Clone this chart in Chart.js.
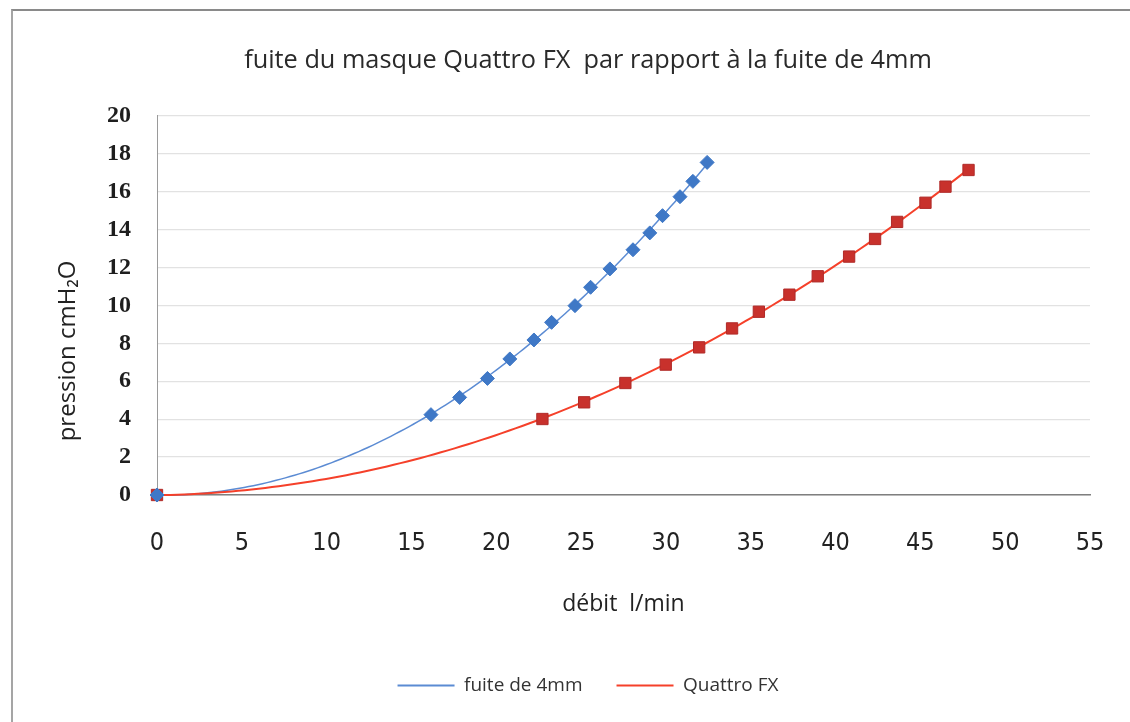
<!DOCTYPE html>
<html lang="fr">
<head>
    <meta charset="UTF-8">
    <title>fuite du masque Quattro FX</title>
    <script src="https://cdn.jsdelivr.net/npm/chart.js"></script>
    <style>
        html, body { margin: 0; padding: 0; background: #fff; }
        #wrap { position: relative; width: 1130px; height: 722px; overflow: hidden; }
        #frame { position: absolute; left: 11px; top: 9px; right: -4px; bottom: -4px;
                 border-top: 2px solid #8a8a8a; border-left: 2px solid #a5a5a5; }
        #chart { position: absolute; left: 0; top: 0; }
    </style>
</head>
<body>
<div id="wrap">
    <div id="frame"></div>
    <canvas id="chart" width="1130" height="722"></canvas>
</div>
<script>
    // valeurs
    const flow4mm = [0, 16.15, 17.84, 19.48, 20.8, 22.22, 23.26, 24.64, 25.56, 26.7, 28.06, 29.05, 29.8, 30.83, 31.59, 32.43];
    const press4mm = [0, 4.24, 5.15, 6.15, 7.18, 8.18, 9.11, 9.99, 10.96, 11.93, 12.94, 13.83, 14.74, 15.74, 16.55, 17.55];
    const flowQuattro = [0, 22.72, 25.18, 27.61, 29.99, 31.96, 33.9, 35.48, 37.28, 38.95, 40.8, 42.33, 43.63, 45.3, 46.48, 47.84];
    const pressQuattro = [0, 4.01, 4.89, 5.91, 6.88, 7.79, 8.79, 9.67, 10.57, 11.54, 12.58, 13.51, 14.41, 15.42, 16.27, 17.15];
    const seriesNames = ['fuite de 4mm', 'Quattro FX'];
    const xTicks = [0, 5, 10, 15, 20, 25, 30, 35, 40, 45, 50, 55];
    const yTicks = [0, 2, 4, 6, 8, 10, 12, 14, 16, 18, 20];

    const blueMark = '#3f78c6';
    const redMark = '#c8312c';
    const blueLine = '#5b8bd3';
    const redLine = '#f5402a';

    function pts(xs, ys) {
        return xs.map((x, i) => ({ x: x, y: ys[i] }));
    }

    // courbe de tendance polynomiale d'ordre 2 (moindres carrés)
    function quadFit(xs, ys) {
        let s = [0, 0, 0, 0, 0], t = [0, 0, 0];
        for (let i = 0; i < xs.length; i++) {
            let p = 1;
            for (let k = 0; k < 5; k++) { s[k] += p; if (k < 3) t[k] += p * ys[i]; p *= xs[i]; }
        }
        const m = [[s[0], s[1], s[2], t[0]], [s[1], s[2], s[3], t[1]], [s[2], s[3], s[4], t[2]]];
        for (let c = 0; c < 3; c++) {
            for (let r = c + 1; r < 3; r++) {
                const f = m[r][c] / m[c][c];
                for (let k = c; k < 4; k++) m[r][k] -= f * m[c][k];
            }
        }
        const a = [0, 0, 0];
        for (let r = 2; r >= 0; r--) {
            let v = m[r][3];
            for (let k = r + 1; k < 3; k++) v -= m[r][k] * a[k];
            a[r] = v / m[r][r];
        }
        return a;
    }

    const trendPlugin = {
        id: 'trend',
        beforeDatasetsDraw(chart) {
            const ctx = chart.ctx, xs = chart.scales.x, ys = chart.scales.y, area = chart.chartArea;
            ctx.save();
            ctx.beginPath();
            ctx.rect(area.left, area.top, area.right - area.left, area.bottom - area.top + 2);
            ctx.clip();
            chart.data.datasets.forEach(ds => {
                const xv = ds.data.map(p => p.x), yv = ds.data.map(p => p.y);
                const c = quadFit(xv, yv);
                const xmax = Math.max(...xv);
                ctx.beginPath();
                for (let i = 0; i <= 120; i++) {
                    const x = xmax * i / 120;
                    const px = xs.getPixelForValue(x), py = ys.getPixelForValue(c[0] + c[1] * x + c[2] * x * x);
                    if (i === 0) ctx.moveTo(px, py); else ctx.lineTo(px, py);
                }
                ctx.strokeStyle = ds.trendColor;
                ctx.lineWidth = ds.trendWidth;
                ctx.stroke();
            });
            ctx.restore();
        }
    };

    // titre de l'axe vertical, placé comme dans Excel
    const yTitlePlugin = {
        id: 'yTitle',
        afterDraw(chart) {
            const ctx = chart.ctx, area = chart.chartArea;
            ctx.save();
            ctx.translate(area.left - 89, area.top + (area.bottom - area.top) * 0.62);
            ctx.rotate(-Math.PI / 2);
            ctx.font = '24px "Open Sans", sans-serif';
            ctx.fillStyle = '#222';
            ctx.textAlign = 'center';
            ctx.textBaseline = 'middle';
            ctx.fillText('pression cmH₂O', 0, 0);
            ctx.restore();
        }
    };

    new Chart(document.getElementById('chart'), {
        type: 'scatter',
        data: {
            datasets: [
                {
                    label: seriesNames[0],
                    data: pts(flow4mm, press4mm),
                    pointStyle: 'rectRot',
                    pointRadius: 7,
                    backgroundColor: blueMark,
                    borderColor: blueMark,
                    borderWidth: 1,
                    clip: false,
                    trendColor: blueLine,
                    trendWidth: 1.5
                },
                {
                    label: seriesNames[1],
                    data: pts(flowQuattro, pressQuattro),
                    pointStyle: 'rect',
                    pointRadius: 8,
                    backgroundColor: redMark,
                    borderColor: '#b02a28',
                    borderWidth: 1,
                    clip: false,
                    trendColor: redLine,
                    trendWidth: 2
                }
            ]
        },
        options: {
            responsive: false,
            animation: false,
            layout: { padding: { left: 86, right: 40, top: 0, bottom: 17 } },
            plugins: {
                title: {
                    display: true,
                    text: 'fuite du masque Quattro FX  par rapport à la fuite de 4mm',
                    color: '#2a2a2a',
                    font: { family: 'Open Sans', size: 25.3, weight: 'normal' },
                    padding: { top: 46, bottom: 39.6 }
                },
                legend: {
                    position: 'bottom',
                    labels: {
                        color: '#333',
                        font: { family: 'Open Sans', size: 19 },
                        boxWidth: 57,
                        boxHeight: 2,
                        padding: 34,
                        generateLabels(chart) {
                            return chart.data.datasets.map((ds, i) => ({
                                text: ds.label,
                                fillStyle: ds.trendColor,
                                strokeStyle: ds.trendColor,
                                lineWidth: 0,
                                fontColor: '#333',
                                datasetIndex: i
                            }));
                        }
                    }
                },
                tooltip: { enabled: false }
            },
            scales: {
                x: {
                    type: 'linear',
                    min: 0,
                    max: 55,
                    afterBuildTicks(scale) { scale.ticks = xTicks.map(v => ({ value: v })); },
                    afterFit(scale) {
                        scale.height = 147;
                        scale.paddingLeft = 0;
                        scale.paddingRight = 0;
                    },
                    grid: { display: false, drawTicks: false },
                    border: { display: true, color: '#7f7f7f', width: 1.5 },
                    ticks: {
                        color: '#222',
                        padding: 33,
                        font: { family: '"Liberation Sans Narrow", "DejaVu Sans Condensed", "Roboto Condensed", "Liberation Sans", sans-serif', size: 25 }
                    },
                    title: {
                        display: true,
                        text: 'débit  l/min',
                        color: '#222',
                        font: { family: 'Open Sans', size: 23 },
                        padding: { top: 0, bottom: 24 }
                    }
                },
                y: {
                    type: 'linear',
                    min: 0,
                    max: 20,
                    afterBuildTicks(scale) { scale.ticks = yTicks.map(v => ({ value: v })); },
                    afterFit(scale) { scale.width = 157 - 86; },
                    grid: { color: '#e2e2e2', lineWidth: 1.2, drawTicks: false },
                    border: { display: true, color: '#9a9a9a', width: 1 },
                    ticks: {
                        color: '#1e1e1e',
                        padding: 26,
                        font: { family: '"Liberation Serif", serif', size: 24, weight: 'bold' }
                    },
                    title: { display: false }
                }
            }
        },
        plugins: [trendPlugin, yTitlePlugin]
    });
</script>
</body>
</html>
